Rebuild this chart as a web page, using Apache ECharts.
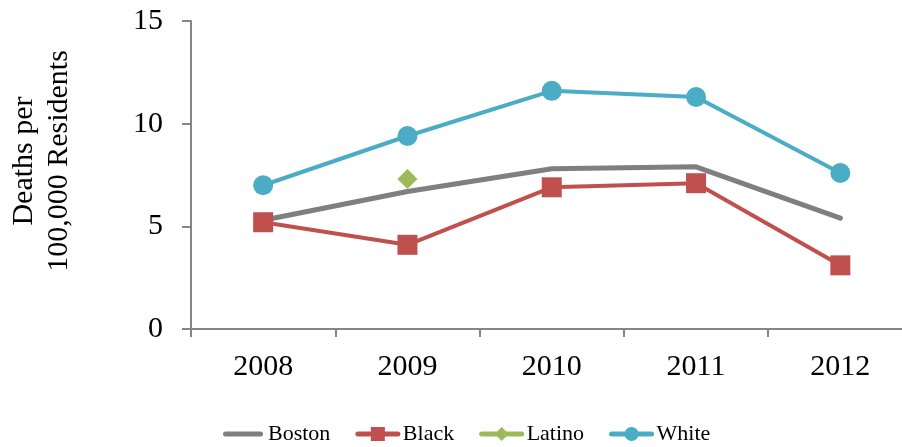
<!DOCTYPE html>
<html>
<head>
<meta charset="utf-8">
<script src="https://cdn.jsdelivr.net/npm/echarts@6/dist/echarts.min.js"></script>
<style>
    html, body { margin: 0; padding: 0; background: #fff; }
    #chart { width: 902px; height: 447px; }
</style>
</head>
<body>
<div id="chart"></div>
<script>
    // 年份
    var years = ['2008', '2009', '2010', '2011', '2012'];
    // 各组数据（每10万居民死亡数）
    var boston = [5.3, 6.7, 7.8, 7.9, 5.4];
    var black = [5.2, 4.1, 6.9, 7.1, 3.1];
    var latino = ['-', 7.3, '-', '-', '-'];
    var white = [7.0, 9.4, 11.6, 11.3, 7.6];
    var yTicks = [0, 5, 10, 15];

    var font = 'Liberation Serif';
    var axisColor = '#868686';
    // Boston图例只画一条圆头线
    var lineIcon = 'path://M0,0 M40,17.5 M2.5,6.25 L37.5,6.25 A2.5,2.5 0 0 1 37.5,11.25 L2.5,11.25 A2.5,2.5 0 0 1 2.5,6.25 Z';

    var myChart = echarts.init(document.getElementById('chart'));
    myChart.setOption({
        animation: false,
        grid: {
            left: 191,
            width: 721.5,
            top: 21,
            bottom: 118,
            outerBoundsMode: 'none'
        },
        legend: {
            left: 218,
            top: 418,
            itemWidth: 40,
            itemHeight: 17.5,
            itemGap: 25,
            lineStyle: { width: 5, cap: 'round' },
            textStyle: {
                fontFamily: font,
                fontSize: 22,
                color: '#000'
            },
            data: [{ name: 'Boston', icon: lineIcon }, 'Black', 'Latino', 'White']
        },
        graphic: [{
            type: 'text',
            x: 42,
            y: 161,
            rotation: Math.PI / 2,
            style: {
                text: 'Deaths per\n100,000 Residents',
                font: '30px "' + font + '"',
                fill: '#000',
                align: 'center',
                verticalAlign: 'middle',
                lineHeight: 35
            }
        }],
        xAxis: {
            type: 'category',
            data: years,
            axisLine: { lineStyle: { color: axisColor, width: 2 } },
            axisTick: { show: true, length: 8, lineStyle: { color: axisColor, width: 2 } },
            axisLabel: {
                margin: 23,
                fontFamily: font,
                fontSize: 30,
                color: '#000'
            },
            splitLine: { show: false }
        },
        yAxis: {
            type: 'value',
            min: yTicks[0],
            max: yTicks[yTicks.length - 1],
            interval: 5,
            axisLine: { show: true, lineStyle: { color: axisColor, width: 2 } },
            axisTick: { show: true, length: 9, lineStyle: { color: axisColor, width: 2 } },
            axisLabel: {
                margin: 28,
                fontFamily: font,
                fontSize: 30,
                color: '#000'
            },
            splitLine: { show: false }
        },
        series: [{
            name: 'Boston',
            type: 'line',
            data: boston,
            symbol: 'none',
            itemStyle: { color: '#7F7F7F' },
            lineStyle: { color: '#7F7F7F', width: 5, cap: 'round' }
        }, {
            name: 'Black',
            type: 'line',
            data: black,
            symbol: 'rect',
            symbolSize: 20,
            itemStyle: { color: '#C0504D' },
            lineStyle: { color: '#C0504D', width: 4 }
        }, {
            name: 'Latino',
            type: 'line',
            data: latino,
            symbol: 'diamond',
            symbolSize: 20,
            itemStyle: { color: '#9BBB59' },
            lineStyle: { color: '#9BBB59', width: 4 }
        }, {
            name: 'White',
            type: 'line',
            data: white,
            symbol: 'circle',
            symbolSize: 20,
            itemStyle: { color: '#4BACC6' },
            lineStyle: { color: '#4BACC6', width: 4 }
        }]
    });
</script>
</body>
</html>
